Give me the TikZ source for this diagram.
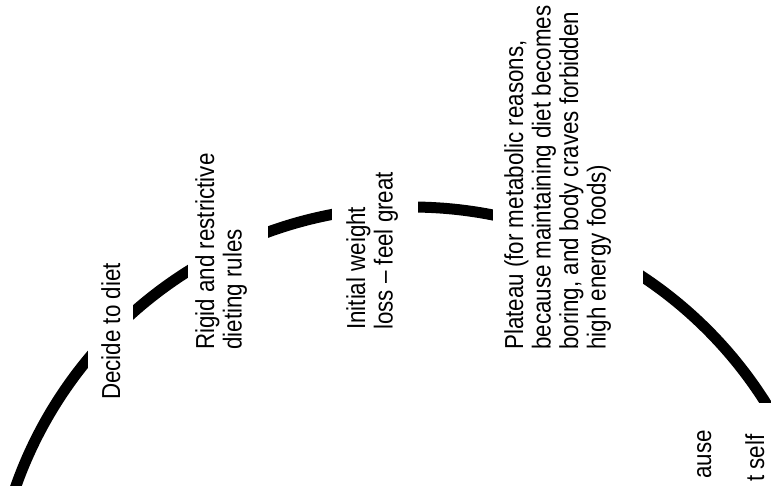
\documentclass[tikz,border=0pt]{standalone}
\usepackage{fontspec}
\setmainfont{Liberation Sans}[FakeStretch=0.86]
\begin{document}
\begin{tikzpicture}[x=1pt,y=-1pt,
  arcline/.style={line width=11pt, black},
  gapbox/.style={fill=white},
  lbl/.style={rotate=90, anchor=north west, inner sep=0pt, align=left,
              font=\fontsize{26}{27.5}\selectfont}]
\useasboundingbox (0,0) rectangle (771,485);
\clip (0,0) rectangle (771,485);
\draw[arcline] (411,626) circle[radius=419];
\path[gapbox] (88,250) rectangle (133,420);
\path[gapbox] (188,140) rectangle (268,360);
\path[gapbox] (332,110) rectangle (418,340);
\path[gapbox] (493,0) rectangle (643,360);
\path[gapbox] (680,403) rectangle (771,485);
\node[lbl] (decide) at (101,400) {Decide to diet};
\node[lbl] (rigid) at (195,350) {Rigid and restrictive\\dieting rules};
\node[lbl] (initial) at (346,330) {Initial weight\\loss – feel great};
\node[lbl] (plateau) at (504,350) {Plateau (for metabolic reasons,\\because maintaining diet becomes\\boring, and body craves forbidden\\high energy foods)};
\node[lbl] (bingea) at (697,479) {ause};
\node[lbl] (bingeb) at (745,482) {t self};
\end{tikzpicture}
\end{document}
